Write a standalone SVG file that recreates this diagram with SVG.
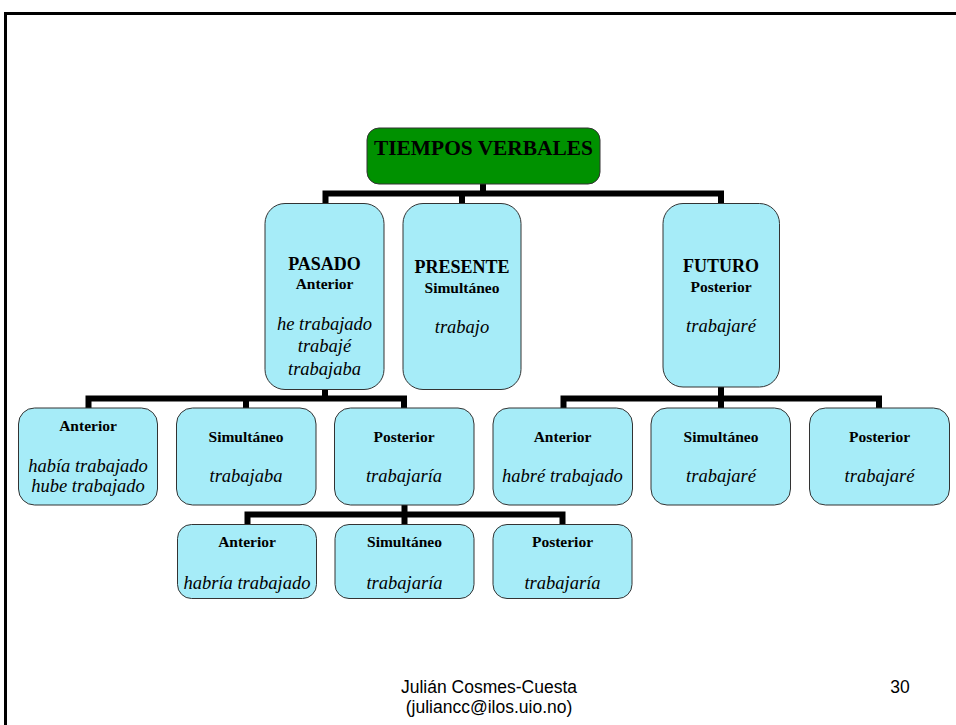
<svg xmlns="http://www.w3.org/2000/svg" width="956" height="725" viewBox="0 0 956 725">
<style>
.box{fill:#a6ecf8;stroke:#333;stroke-width:1}
.root{fill:#009100;stroke:#333;stroke-width:1}
.con{fill:none;stroke:#000;stroke-width:6;stroke-linejoin:miter;stroke-linecap:butt}
text{font-family:"Liberation Serif","Times New Roman",serif;fill:#000;text-anchor:middle}
.h{font-weight:bold;font-size:18px}
.s{font-weight:bold;font-size:15.5px}
.i{font-style:italic;font-size:18.5px}
.f{font-family:"Liberation Sans",Arial,sans-serif;font-size:17.5px}
</style>
<rect width="956" height="725" fill="#fff"/>
<path d="M956 13.5 H5.5 V725" fill="none" stroke="#000" stroke-width="3"/>
<g id="connectors">
<path class="con" d="M483 184 V193.5"/>
<path class="con" d="M325.5 203 V193.5 H721 V203"/>
<path class="con" d="M462 193.5 V203"/>
<path class="con" d="M325 389 V398.5"/>
<path class="con" d="M88.5 408 V398.5 H404 V408"/>
<path class="con" d="M246 398.5 V408"/>
<path class="con" d="M721 387 V398.5"/>
<path class="con" d="M563.5 408 V398.5 H879 V408"/>
<path class="con" d="M721 398.5 V408"/>
<path class="con" d="M404.5 505 V524"/>
<path class="con" d="M247.5 524 V514.5 H562.5 V524"/>
</g>
<g id="root">
<rect class="root" x="367" y="128" width="233" height="56" rx="12"/>
<text class="h" x="483.5" y="155" textLength="219" lengthAdjust="spacingAndGlyphs" style="font-size:21px">TIEMPOS VERBALES</text>
</g>
<g id="pasado">
<rect class="box" x="265" y="203.5" width="119" height="186" rx="20"/>
<text class="h" x="324.5" y="269.5">PASADO</text>
<text class="s" x="324.5" y="288.5">Anterior</text>
<text class="i" x="324.5" y="329.5">he trabajado</text>
<text class="i" x="324.5" y="352">trabajé</text>
<text class="i" x="324.5" y="374.5">trabajaba</text>
</g>
<g id="presente">
<rect class="box" x="403" y="203.5" width="118" height="186" rx="20"/>
<text class="h" x="462" y="273">PRESENTE</text>
<text class="s" x="462" y="293">Simultáneo</text>
<text class="i" x="462" y="333">trabajo</text>
</g>
<g id="futuro">
<rect class="box" x="663" y="203.5" width="116.5" height="183.5" rx="20"/>
<text class="h" x="721" y="272">FUTURO</text>
<text class="s" x="721" y="292">Posterior</text>
<text class="i" x="721" y="332">trabajaré</text>
</g>
<g id="pasado-anterior">
<rect class="box" x="18.5" y="408" width="139" height="97" rx="16"/>
<text class="s" x="88" y="430.5">Anterior</text>
<text class="i" x="88" y="472">había trabajado</text>
<text class="i" x="88" y="492">hube trabajado</text>
</g>
<g id="pasado-simultaneo">
<rect class="box" x="176.5" y="408" width="139.5" height="97" rx="16"/>
<text class="s" x="246" y="442">Simultáneo</text>
<text class="i" x="246" y="482">trabajaba</text>
</g>
<g id="pasado-posterior">
<rect class="box" x="334.5" y="408" width="139.5" height="97" rx="16"/>
<text class="s" x="404" y="442">Posterior</text>
<text class="i" x="404" y="482">trabajaría</text>
</g>
<g id="futuro-anterior">
<rect class="box" x="493" y="408" width="139.5" height="97" rx="16"/>
<text class="s" x="562.5" y="442">Anterior</text>
<text class="i" x="562.5" y="482">habré trabajado</text>
</g>
<g id="futuro-simultaneo">
<rect class="box" x="651" y="408" width="139.5" height="97" rx="16"/>
<text class="s" x="721" y="442">Simultáneo</text>
<text class="i" x="721" y="482">trabajaré</text>
</g>
<g id="futuro-posterior">
<rect class="box" x="809.5" y="408" width="140" height="97" rx="16"/>
<text class="s" x="879.5" y="442">Posterior</text>
<text class="i" x="879.5" y="482">trabajaré</text>
</g>
<g id="cond-anterior">
<rect class="box" x="177.5" y="524.5" width="139" height="74" rx="14"/>
<text class="s" x="247" y="547">Anterior</text>
<text class="i" x="247" y="588.5">habría trabajado</text>
</g>
<g id="cond-simultaneo">
<rect class="box" x="335" y="524.5" width="139" height="74" rx="14"/>
<text class="s" x="404.5" y="547">Simultáneo</text>
<text class="i" x="404.5" y="588.5">trabajaría</text>
</g>
<g id="cond-posterior">
<rect class="box" x="493" y="524.5" width="139" height="74" rx="14"/>
<text class="s" x="562.5" y="547">Posterior</text>
<text class="i" x="562.5" y="588.5">trabajaría</text>
</g>
<g id="footer">
<text class="f" x="489" y="693">Julián Cosmes-Cuesta</text>
<text class="f" x="489" y="713">(juliancc@ilos.uio.no)</text>
<text class="f" x="900" y="693">30</text>
</g>
</svg>
